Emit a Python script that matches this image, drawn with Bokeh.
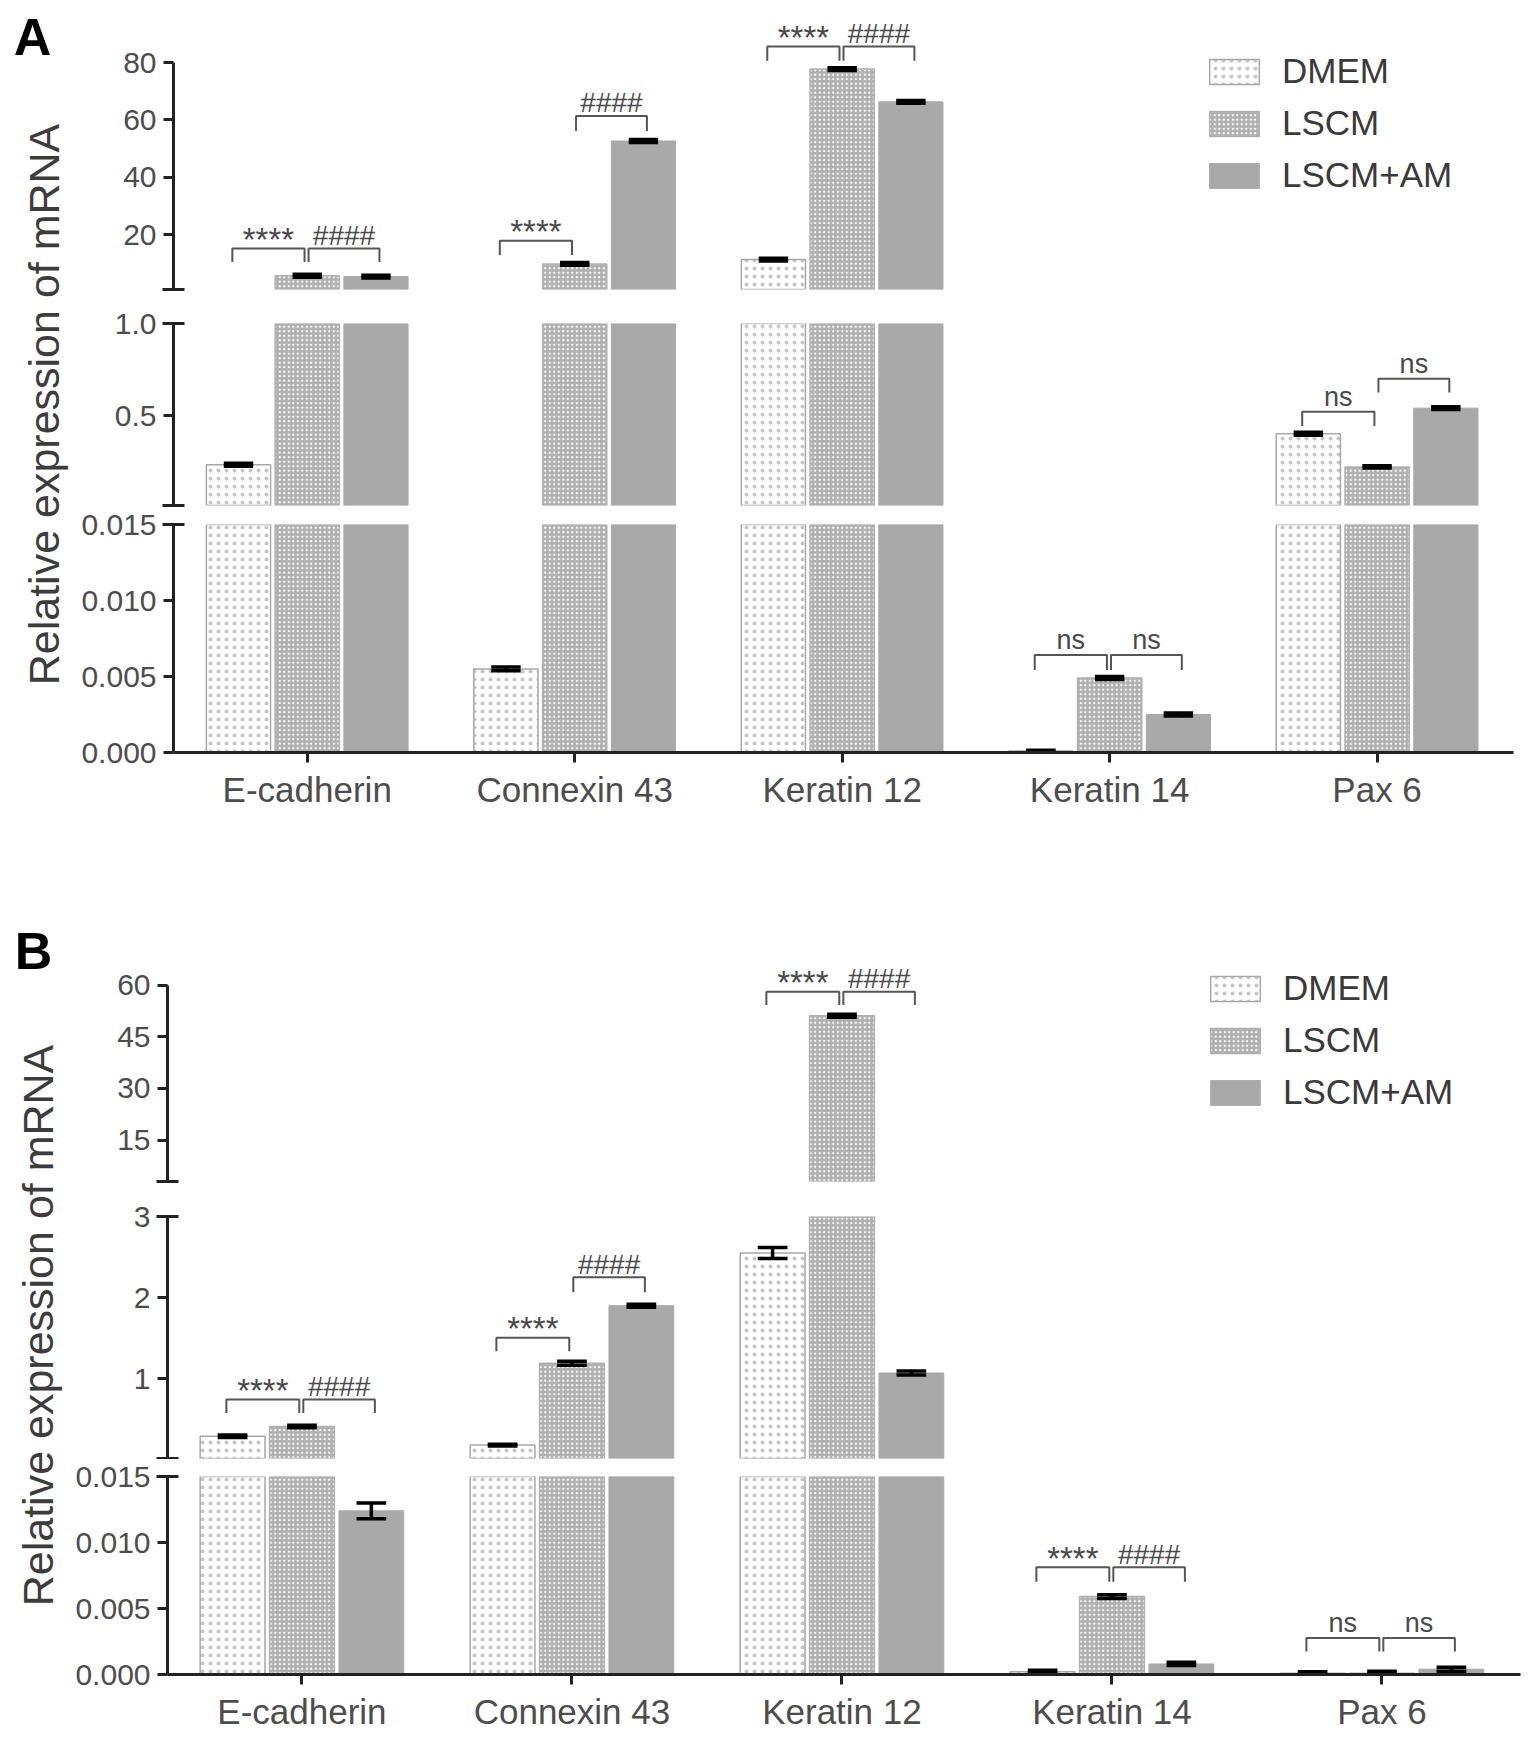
import math
from bokeh.plotting import figure
from bokeh.models import (Range1d, FixedTicker, Legend, LegendItem, CDSView, BooleanFilter,
                          ColumnDataSource, PrintfTickFormatter)
from bokeh.layouts import row, column
from bokeh.embed import file_html
from bokeh.resources import INLINE
from bokeh.core.properties import value

FONT = "Liberation Sans"

# ---------------- data ----------------
categories = ["E-cadherin", "Connexin 43", "Keratin 12", "Keratin 14", "Pax 6"]
groups = ["DMEM", "LSCM", "LSCM+AM"]

# Panel A: relative expression (mean) and error
a_dmem = [0.235, 0.0055, 11.4, 0.0001, 0.403]
a_lscm = [5.8, 9.9, 77.7, 0.0049, 0.224]
a_am = [5.5, 52.7, 66.3, 0.0025, 0.542]
a_dmem_err = [0.008, 0.00012, 0.5, 0.00005, 0.008]
a_lscm_err = [0.5, 0.5, 0.5, 0.0001, 0.006]
a_am_err = [0.5, 0.5, 0.5, 0.0001, 0.008]

# Panel B
b_dmem = [0.29, 0.18, 2.55, 0.0002, 0.0001]
b_lscm = [0.41, 1.19, 51.1, 0.0059, 0.0001]
b_am = [0.0124, 1.90, 1.07, 0.0008, 0.0004]
b_dmem_err = [0.015, 0.012, 0.067, 0.00012, 0.0001]
b_lscm_err = [0.015, 0.025, 0.45, 0.00015, 0.00015]
b_am_err = [0.0006, 0.018, 0.025, 0.00012, 0.00015]

# significance brackets: (segment, category index, side, line level, leg end, label)
a_brackets = [
    ("top", 0, "L", 15.3, 10.6, "****"),
    ("top", 0, "R", 15.3, 10.6, "####"),
    ("top", 1, "L", 18.0, 13.0, "****"),
    ("top", 1, "R", 61.4, 56.2, "####"),
    ("top", 2, "L", 85.6, 80.6, "****"),
    ("top", 2, "R", 85.6, 80.6, "####"),
    ("mid", 4, "L", 0.522, 0.445, "ns"),
    ("mid", 4, "R", 0.701, 0.627, "ns"),
    ("low", 3, "L", 0.00641, 0.00543, "ns"),
    ("low", 3, "R", 0.00641, 0.00543, "ns"),
]
b_brackets = [
    ("top", 2, "L", 58.06, 54.2, "****"),
    ("top", 2, "R", 58.06, 54.2, "####"),
    ("mid", 0, "L", 0.742, 0.577, "****"),
    ("mid", 0, "R", 0.742, 0.577, "####"),
    ("mid", 1, "L", 1.504, 1.338, "****"),
    ("mid", 1, "R", 2.252, 2.067, "####"),
    ("low", 3, "L", 0.00812, 0.00702, "****"),
    ("low", 3, "R", 0.00812, 0.00702, "####"),
    ("low", 4, "L", 0.00276, 0.00174, "ns"),
    ("low", 4, "R", 0.00276, 0.00174, "ns"),
]

# ---------------- style ----------------
GROUP_OFFSETS = [-0.257, 0.0, 0.257]
BAR_W = 0.24
CAP_HALF = 0.055
BR_SPAN = {"L": (-0.28, -0.01), "R": (0.005, 0.27)}
TXT_SIZE = {"****": "33px", "####": "28px", "ns": "27px"}
TXT_UP_PX = {"****": 9, "####": 13, "ns": 15}   # text anchor above the bracket line (px)
AXIS_COLOR = "#222222"
LABEL_COLOR = "#4d4d4d"

STYLES = [
    dict(fill_color="white", hatch_pattern="dot", hatch_color="#c6c6c6",
         hatch_scale=8, hatch_weight=0.4, line_color="#a8a8a8", line_width=1.5),
    dict(fill_color="#b0b0b0", hatch_pattern="dot", hatch_color="white",
         hatch_scale=4.5, hatch_weight=1.0, line_color="#b0b0b0", line_width=1.5),
    dict(fill_color="#a9a9a9", line_color="#a9a9a9", line_width=1),
]

panel_A = dict(
    letter="A", vals=[a_dmem, a_lscm, a_am], errs=[a_dmem_err, a_lscm_err, a_am_err],
    brackets=a_brackets, xr=(0.5, 5.51), fig_w=1457, mbl=103, mbr=14,
    legend_loc=(1030, 94), legend_standoff=17, title_h=822,
    letter_pos=(32, 786), title_pos=(43, 418),
    segments=[
        dict(name="top", lo=1, hi=96.36, bounds=(1, 80), ticks=[20, 40, 60, 80], minor=[1],
             fmt="%d", h=306, bt=15, bb=17, xaxis=False),
        dict(name="mid", lo=0.015, hi=1.0, bounds=(0.015, 1.0), ticks=[0.5, 1.0],
             minor=[0.015, 1.0], fmt="%.1f", h=201, bt=17, bb=2, xaxis=False),
        dict(name="low", lo=0.0, hi=0.015, bounds=(0.0, 0.015),
             ticks=[0.0, 0.005, 0.010, 0.015], minor=[0.015], fmt="%.3f",
             h=315, bt=17, bb=70, xaxis=True),
    ])

panel_B = dict(
    letter="B", vals=[b_dmem, b_lscm, b_am], errs=[b_dmem_err, b_lscm_err, b_am_err],
    brackets=b_brackets, xr=(0.502, 5.513), fig_w=1457, mbl=97, mbr=7,
    legend_loc=(1037, 69), legend_standoff=17, title_h=914,
    letter_pos=(33, 786), title_pos=(37, 411),
    segments=[
        dict(name="top", lo=3, hi=67.7, bounds=(3, 60), ticks=[15, 30, 45, 60], minor=[3],
             fmt="%d", h=376, bt=136, bb=17, xaxis=False),
        dict(name="mid", lo=0.015, hi=3.0, bounds=(0.015, 3.0), ticks=[1, 2, 3],
             minor=[0.015, 3.0], fmt="%d", h=261, bt=18, bb=1, xaxis=False),
        dict(name="low", lo=0.0, hi=0.015, bounds=(0.0, 0.015),
             ticks=[0.0, 0.005, 0.010, 0.015], minor=[0.015], fmt="%.3f",
             h=277, bt=17, bb=62, xaxis=True),
    ])


def build_segment(P, seg):
    p = figure(width=P["fig_w"], height=seg["h"],
               x_range=Range1d(*P["xr"]), y_range=Range1d(seg["lo"], seg["hi"]),
               output_backend="svg", toolbar_location=None, title=None,
               x_axis_location="below" if seg["xaxis"] else None,
               min_border_left=P["mbl"], min_border_right=P["mbr"],
               min_border_top=seg["bt"], min_border_bottom=seg["bb"])
    p.outline_line_color = None
    p.grid.visible = False
    p.background_fill_color = "white"
    p.border_fill_color = "white"

    ya = p.yaxis[0]
    ya.ticker = FixedTicker(ticks=seg["ticks"], minor_ticks=seg["minor"])
    ya.formatter = PrintfTickFormatter(format=seg["fmt"])
    ya.bounds = seg["bounds"]
    ya.axis_line_width = 3
    ya.axis_line_color = AXIS_COLOR
    ya.major_tick_line_width = 3
    ya.major_tick_line_color = AXIS_COLOR
    ya.major_tick_out = 10
    ya.major_tick_in = 0
    ya.minor_tick_line_width = 3
    ya.minor_tick_line_color = AXIS_COLOR
    ya.minor_tick_in = 11
    ya.minor_tick_out = 11
    ya.major_label_text_font = FONT
    ya.major_label_text_font_size = "30px"
    ya.major_label_text_color = LABEL_COLOR
    ya.major_label_standoff = 6

    if seg["xaxis"]:
        xa = p.xaxis[0]
        xa.ticker = FixedTicker(ticks=[i + 1 for i in range(len(categories))])
        xa.major_label_overrides = {i + 1: c for i, c in enumerate(categories)}
        xa.axis_line_width = 3
        xa.axis_line_color = AXIS_COLOR
        xa.major_tick_line_width = 3
        xa.major_tick_line_color = AXIS_COLOR
        xa.major_tick_out = 10
        xa.major_tick_in = 0
        xa.minor_tick_line_color = None
        xa.major_label_text_font = FONT
        xa.major_label_text_font_size = "35px"
        xa.major_label_text_color = LABEL_COLOR
        xa.major_label_standoff = 7

    for g in range(len(groups)):
        vals = P["vals"][g]
        errs = P["errs"][g]
        xs = [i + 1 + GROUP_OFFSETS[g] for i in range(len(categories))]
        src = ColumnDataSource(dict(
            x=xs, top=vals,
            lo=[v - e for v, e in zip(vals, errs)],
            hi=[v + e for v, e in zip(vals, errs)],
            cl=[x - CAP_HALF for x in xs], cr=[x + CAP_HALF for x in xs]))
        # only the bars that reach into this segment of the broken axis
        view = CDSView(filter=BooleanFilter([v > seg["lo"] for v in vals]))
        p.vbar(x="x", top="top", bottom=0, width=BAR_W, source=src, view=view,
               **STYLES[g])
        for (x0, y0, x1, y1) in (("x", "lo", "x", "hi"), ("cl", "hi", "cr", "hi"),
                                 ("cl", "lo", "cr", "lo")):
            p.segment(x0=x0, y0=y0, x1=x1, y1=y1, source=src, view=view,
                      line_width=3.5, line_color="black")

    brs = [b for b in P["brackets"] if b[0] == seg["name"]]
    if brs:
        frame_h = seg["h"] - seg["bt"] - seg["bb"]
        ppu = frame_h / (seg["hi"] - seg["lo"])
        bxs, bys, tx, ty, tt, tfs = [], [], [], [], [], []
        for (_, ci, side, yl, yg, lab) in brs:
            a, b = BR_SPAN[side]
            x0 = ci + 1 + a
            x1 = ci + 1 + b
            bxs.append([x0, x0, x1, x1])
            bys.append([yg, yl, yl, yg])
            tx.append((x0 + x1) / 2)
            ty.append(yl + TXT_UP_PX[lab] / ppu)
            tt.append(lab)
            tfs.append(TXT_SIZE[lab])
        p.multi_line(xs=bxs, ys=bys, line_color="#555555", line_width=2)
        tsrc = ColumnDataSource(dict(x=tx, y=ty, text=tt, fs=tfs))
        p.text(x="x", y="y", text="text", source=tsrc, text_font=value(FONT),
               text_font_size="fs", text_color="#4a4a4a",
               text_align="center", text_baseline="alphabetic")

    if seg["name"] == "top":
        # legend proxies: one row with no position, so they draw no bar themselves
        items = []
        for g in range(len(groups)):
            proxy = p.vbar(x=[float("nan")], top=[float("nan")], bottom=0, width=BAR_W,
                           **STYLES[g])
            items.append(LegendItem(label=groups[g], renderers=[proxy]))
        leg = Legend(items=items, location=P["legend_loc"])
        leg.border_line_color = None
        leg.background_fill_alpha = 0
        leg.padding = 0
        leg.margin = 0
        leg.spacing = 12
        leg.glyph_width = 62
        leg.glyph_height = 31
        leg.label_height = 31
        leg.label_standoff = P["legend_standoff"]
        leg.label_text_font = FONT
        leg.label_text_font_size = "35px"
        leg.label_text_color = "#3a3a3a"
        p.add_layout(leg)
    return p


def build_title(P):
    t = figure(width=70, height=P["title_h"], x_range=Range1d(0, 70),
               y_range=Range1d(0, P["title_h"]), output_backend="svg",
               toolbar_location=None, title=None, x_axis_location=None,
               y_axis_location=None, min_border=0)
    t.outline_line_color = None
    t.grid.visible = False
    t.text(x=[P["letter_pos"][0]], y=[P["letter_pos"][1]], text=[P["letter"]],
           text_font=value(FONT), text_font_size="52px", text_font_style="bold",
           text_color="black", text_align="center", text_baseline="middle")
    t.text(x=[P["title_pos"][0]], y=[P["title_pos"][1]],
           text=["Relative expression of mRNA"], angle=math.pi / 2,
           text_font=value(FONT), text_font_size="43px", text_color="#3c3c3c",
           text_align="center", text_baseline="middle")
    return t


def build_panel(P):
    segs = [build_segment(P, s) for s in P["segments"]]
    return row(build_title(P), column(*segs))


layout = column(build_panel(panel_A), build_panel(panel_B))

open("out.html", "w").write(file_html(layout, INLINE))
